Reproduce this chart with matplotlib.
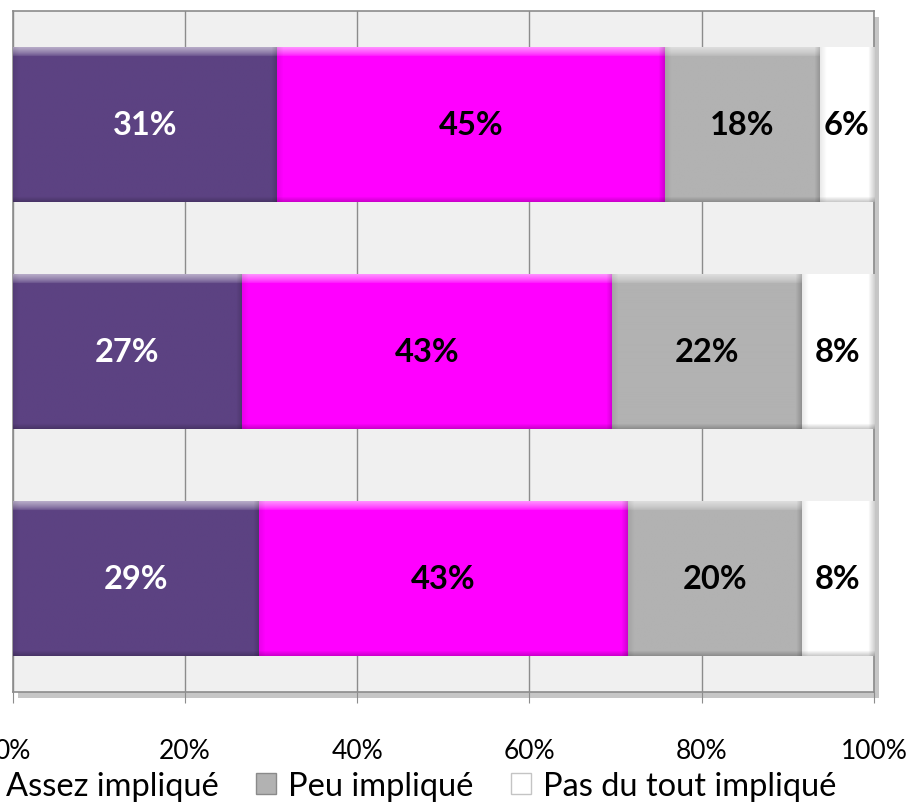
import matplotlib
matplotlib.use("Agg")
import matplotlib.pyplot as plt
from matplotlib.patches import Rectangle, Patch
from matplotlib.colors import to_rgb
import numpy as np

# Data (top bar first)
categories = ["A", "B", "C"]
tres = [30.7, 26.6, 28.6]
assez = [45.0, 43.0, 42.8]
peu = [18.0, 22.0, 20.2]
pas = [6.3, 8.4, 8.4]
labels_tres = ["31%", "27%", "29%"]
labels_assez = ["45%", "43%", "43%"]
labels_peu = ["18%", "22%", "20%"]
labels_pas = ["6%", "8%", "8%"]
series_names = ["Très impliqué", "Assez impliqué", "Peu impliqué", "Pas du tout impliqué"]
tick_vals = [0, 20, 40, 60, 80, 100]
tick_labels = ["0%", "20%", "40%", "60%", "80%", "100%"]

colors = ["#5c4282", "#ff00ff", "#b2b2b2", "#ffffff"]
edge_colors = ["#4a336b", "#e000e0", "#8a8a8a", "#c4c4c4"]
text_colors = ["white", "black", "black", "black"]
FONT = "Lato"

fig = plt.figure(figsize=(9.13, 8.12), dpi=100)
left, right = 12.5 / 913, 874 / 913
top, bottom = 1 - 12 / 812, 1 - 693 / 812
ax = fig.add_axes([left, bottom, right - left, top - bottom])
ax.set_facecolor("#f0f0f0")

# shadow behind plot area
shadow = Rectangle((left + 5 / 913, bottom - 6 / 812), right - left, top - bottom,
                   transform=fig.transFigure, facecolor="#a0a0a0", alpha=0.6,
                   edgecolor="none", zorder=-1)
fig.patches.append(shadow)

ax.set_xlim(0, 100)
ax.set_ylim(len(categories) - 0.5, -0.5)


def bevel(color, w, h):
    c = np.array(to_rgb(color))
    img = np.tile(c, (h, w, 1)).astype(float)
    white = np.ones(3)
    black = np.zeros(3)
    tb = min(9, h // 4)
    for i in range(tb):
        f = 0.55 * (1 - i / tb) ** 0.7
        img[i, :, :] = img[i, :, :] * (1 - f) + white * f
    bb = min(5, h // 6)
    for i in range(bb):
        f = 0.2 * (1 - i / bb)
        img[h - 1 - i, :, :] = img[h - 1 - i, :, :] * (1 - f) + black * f
    sb = min(6, max(w // 6, 1))
    for j in range(sb):
        f = 0.18 * (1 - j / sb)
        img[:, w - 1 - j, :] = img[:, w - 1 - j, :] * (1 - f) + black * f
        f2 = 0.08 * (1 - j / sb)
        img[:, j, :] = img[:, j, :] * (1 - f2) + black * f2
    return np.clip(img, 0, 1)


y = np.arange(len(categories))
series = [tres, assez, peu, pas]
labels = [labels_tres, labels_assez, labels_peu, labels_pas]
leftpos = np.zeros(len(categories))
handles = []
bar_h = 0.68
px_per_x = (right - left) * 913 / 100
px_per_y = (top - bottom) * 812 / len(categories)
for vals, lab, c, ec, tc, name in zip(series, labels, colors, edge_colors, text_colors, series_names):
    vals = np.array(vals)
    bars = ax.barh(y, vals, left=leftpos, height=bar_h, color=c, edgecolor="none",
                   linewidth=0, zorder=3, label=name)
    for b, yi, l0, v, t in zip(bars, y, leftpos, vals, lab):
        w = max(int(round(v * px_per_x)), 2)
        h = max(int(round(bar_h * px_per_y)), 2)
        im = ax.imshow(bevel(c, w, h), extent=(l0, l0 + v, yi + bar_h / 2, yi - bar_h / 2),
                       aspect="auto", zorder=3.5, interpolation="bilinear")
        im.set_clip_path(b)
        ax.text(l0 + v / 2, yi, t, ha="center", va="center", color=tc,
                fontsize=23.5, fontweight="bold", family=FONT, zorder=4)
    leftpos = leftpos + vals
    handles.append(Patch(facecolor=c, edgecolor=ec, label=name))

ax.set_xlim(0, 100)
ax.set_ylim(len(categories) - 0.5, -0.5)
ax.set_xticks(tick_vals)
ax.set_xticklabels(tick_labels, family=FONT, fontsize=19)
ax.set_yticks([])
ax.grid(axis="x", color="#8c8c8c", linewidth=1.0, zorder=0)
ax.set_axisbelow(True)
ax.tick_params(axis="x", direction="out", length=8, color="#8c8c8c", pad=25)
for s in ax.spines.values():
    s.set_color("#8c8c8c")
    s.set_linewidth(1.2)

fig.legend(handles=handles, loc="center right", bbox_to_anchor=(836 / 913, 1 - 787 / 812),
           ncol=4, frameon=False, prop={"family": FONT, "size": 23.5},
           handlelength=0.6, handleheight=0.6, handletextpad=0.37, columnspacing=1.15,
           borderpad=0, borderaxespad=0)

fig.savefig("out.png", dpi=100)
